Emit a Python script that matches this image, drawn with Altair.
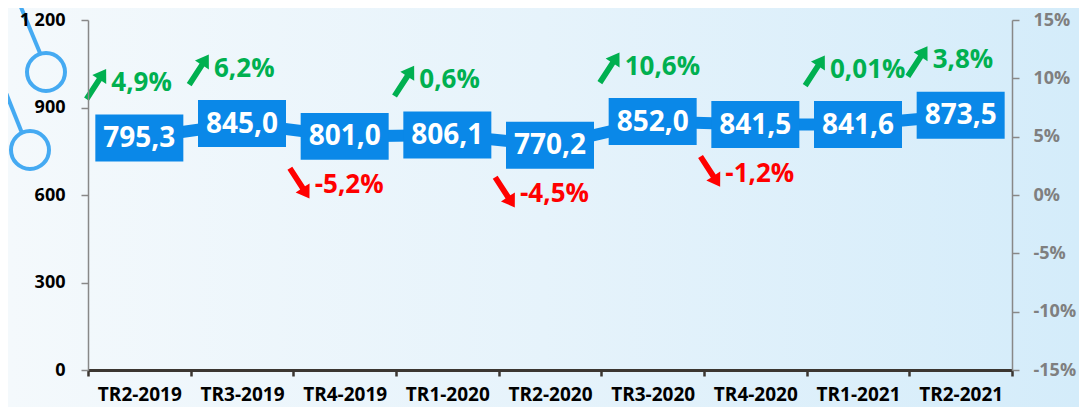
import altair as alt
import pandas as pd

categories = ["TR2-2019", "TR3-2019", "TR4-2019", "TR1-2020", "TR2-2020",
              "TR3-2020", "TR4-2020", "TR1-2021", "TR2-2021"]
values = [795.3, 845.0, 801.0, 806.1, 770.2, 852.0, 841.5, 841.6, 873.5]
growth = [4.9, 6.2, -5.2, 0.6, -4.5, 10.6, -1.2, 0.01, 3.8]
left_ticks = [0, 300, 600, 900, 1200]
right_ticks = [-15, -10, -5, 0, 5, 10, 15]

W, H = 924, 350
PAD = {"left": 80, "top": 12, "right": 67, "bottom": 37}

BLUE = "#0A88E8"
GREEN = "#00B050"
RED = "#FF0000"
FONT = "Open Sans"

df = pd.DataFrame({
    "cat": categories,
    "value": values,
    "growth": growth,
    "vlabel": [f"{v:.1f}".replace(".", ",") for v in values],
    "glabel": [str(g).replace(".", ",") + "%" for g in growth],
})

x_enc = alt.X("cat:N", sort=categories, title=None,
              scale=alt.Scale(paddingInner=0, paddingOuter=0),
              axis=alt.Axis(labelAngle=0, labelFont=FONT, labelFontWeight="bold",
                            labelFontSize=19, labelColor="#000000", labelPadding=9,
                            domainColor="#3B3631", domainWidth=3, tickColor="#3B3631",
                            tickWidth=2.5, tickSize=6, tickBand="extent", grid=False,
                            zindex=1))
y_scale = alt.Scale(domain=[0, 1200], nice=False, zero=True)
y_enc = alt.Y("value:Q", scale=y_scale, title=None,
              axis=alt.Axis(values=left_ticks, labelFont=FONT, labelFontWeight="bold",
                            labelFontSize=18, labelColor="#000000", labelPadding=16,
                            domainColor="#888888", domainWidth=1.5, tickColor="#888888",
                            tickWidth=1.5, tickSize=7, grid=False, zindex=1,
                            labelExpr="replace(format(datum.value, ','), ',', ' ')"))

base = alt.Chart(df)

line = base.mark_line(color=BLUE, strokeWidth=12).encode(x=x_enc, y=y_enc)

rect_path = "M -1 -0.534 L 1 -0.534 L 1 0.534 L -1 0.534 Z"
boxes = base.mark_point(shape=rect_path, filled=True, size=7744, color=BLUE,
                        opacity=1, strokeWidth=0).encode(x=x_enc, y=y_enc)
box_text = base.mark_text(font=FONT, fontWeight="bold", fontSize=28, color="white",
                          baseline="middle", dy=1).encode(x=x_enc, y=y_enc, text="vlabel:N")

arrow_path = "M -0.16 1 L 0.16 1 L 0.16 -0.3 L 0.46 -0.3 L 0 -1 L -0.46 -0.3 L -0.16 -0.3 Z"
up = base.transform_filter("datum.growth >= 0")
down = base.transform_filter("datum.growth < 0")

up_text = up.mark_text(font=FONT, fontWeight="bold", fontSize=26, color=GREEN,
                       align="left", baseline="middle", dx=-28, dy=-55).encode(
    x=x_enc, y=y_enc, text="glabel:N")
down_text = down.mark_text(font=FONT, fontWeight="bold", fontSize=26, color=RED,
                           align="left", baseline="middle", dx=-30, dy=49).encode(
    x=x_enc, y=y_enc, text="glabel:N")
up_arrow = up.mark_point(shape=arrow_path, filled=True, size=1296, color=GREEN, opacity=1,
                         angle=33, xOffset=-43, yOffset=-54, strokeWidth=0).encode(x=x_enc, y=y_enc)
down_arrow = down.mark_point(shape=arrow_path, filled=True, size=1296, color=RED, opacity=1,
                             angle=147, xOffset=-45, yOffset=47, strokeWidth=0).encode(x=x_enc, y=y_enc)

left = alt.layer(line, boxes, box_text, up_text, down_text, up_arrow, down_arrow)

right = alt.Chart(pd.DataFrame({"pct": right_ticks})).mark_point(opacity=0).encode(
    y=alt.Y("pct:Q", title=None, scale=alt.Scale(domain=[-15, 15], nice=False),
            axis=alt.Axis(orient="right", values=right_ticks, labelFont=FONT,
                          labelFontWeight="bold", labelFontSize=18, labelColor="#7F7F7F",
                          labelPadding=14, domainColor="#888888", domainWidth=1.5,
                          tickColor="#888888", tickWidth=1.5, tickSize=7, grid=False,
                          zindex=1,
                          labelExpr="(datum.value < 0 ? '-' : '') + abs(datum.value) + '%'"))
)

one = pd.DataFrame({"k": [0]})
bg = alt.Chart(one).mark_rect(
    fill=alt.LinearGradient(gradient="linear", x1=0, x2=1, y1=0, y2=0,
                            stops=[alt.GradientStop(color="#F4F9FC", offset=0),
                                   alt.GradientStop(color="#E6F3FB", offset=0.5),
                                   alt.GradientStop(color="#D4ECFA", offset=1)])
).encode(x=alt.value(-PAD["left"]), x2=alt.value(W + PAD["right"]),
         y=alt.value(-PAD["top"]), y2=alt.value(H + PAD["bottom"]))

DECO = "#45AAF2"
deco_l1 = alt.Chart(one).mark_rule(color=DECO, strokeWidth=4).encode(
    x=alt.value(-70), y=alt.value(-20), x2=alt.value(-48), y2=alt.value(33))
deco_l2 = alt.Chart(one).mark_rule(color=DECO, strokeWidth=4).encode(
    x=alt.value(-88), y=alt.value(58), x2=alt.value(-66), y2=alt.value(113))
deco_c1 = alt.Chart(one).mark_point(shape="circle", filled=False, size=1444, color=DECO,
                                    strokeWidth=4, opacity=1).encode(
    x=alt.value(-42), y=alt.value(52))
deco_c2 = alt.Chart(one).mark_point(shape="circle", filled=False, size=1444, color=DECO,
                                    strokeWidth=4, opacity=1).encode(
    x=alt.value(-58), y=alt.value(130))

chart = alt.layer(bg, deco_l1, deco_l2, deco_c1, deco_c2, left, right).resolve_scale(
    y="independent"
).properties(
    width=W, height=H, padding=PAD, autosize="none", background="#EAF5FB"
).configure_view(stroke=None)

chart.save("out.html", embed_options={"renderer": "svg", "actions": False})
